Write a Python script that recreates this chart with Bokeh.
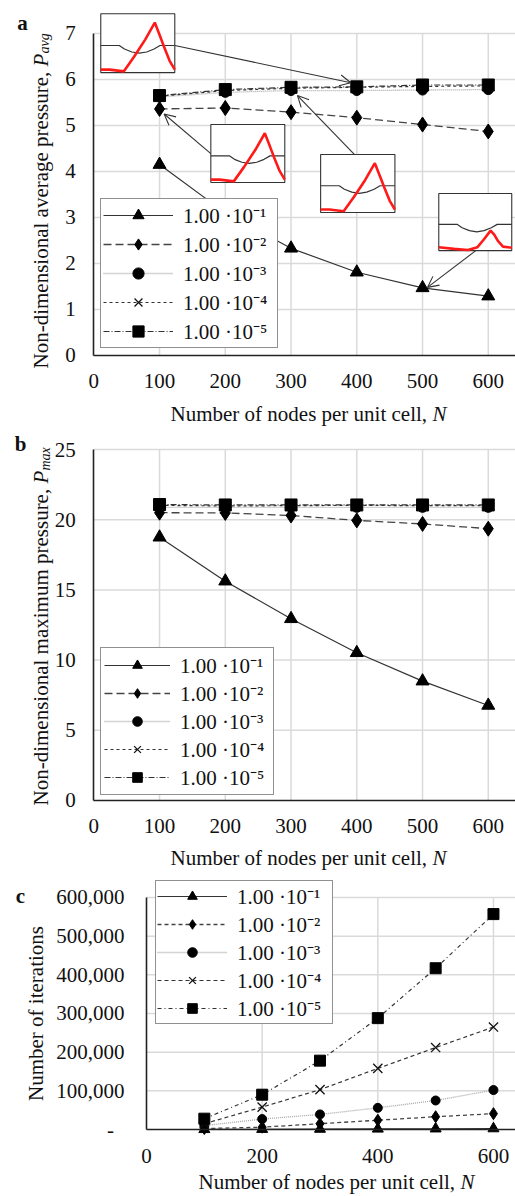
import math
from bokeh.plotting import figure
from bokeh.models import (Range1d, FixedTicker, Legend, LegendItem, Label, Arrow,
                          OpenHead, NumeralTickFormatter)
from bokeh.layouts import column
from bokeh.embed import file_html
from bokeh.resources import INLINE

# ---------------- data ----------------
nodes = [100, 200, 300, 400, 500, 600]
tolerance_labels = ["1.00 ·10⁻¹", "1.00 ·10⁻²", "1.00 ·10⁻³", "1.00 ·10⁻⁴", "1.00 ·10⁻⁵"]

p_avg_tol1 = [4.15, 3.10, 2.33, 1.81, 1.47, 1.29]
p_avg_tol2 = [5.36, 5.38, 5.29, 5.17, 5.02, 4.87]
p_avg_tol3 = [5.62, 5.72, 5.76, 5.76, 5.77, 5.78]
p_avg_tol4 = [5.64, 5.76, 5.81, 5.83, 5.85, 5.86]
p_avg_tol5 = [5.65, 5.78, 5.83, 5.84, 5.88, 5.88]

p_max_tol1 = [18.75, 15.62, 12.94, 10.52, 8.50, 6.77]
p_max_tol2 = [20.50, 20.48, 20.30, 19.95, 19.70, 19.36]
p_max_tol3 = [20.88, 20.88, 20.88, 20.88, 20.88, 20.88]
p_max_tol4 = [21.02, 20.98, 21.00, 21.02, 21.00, 21.00]
p_max_tol5 = [21.08, 21.05, 21.05, 21.05, 21.05, 21.05]

iter_tol1 = [300, 700, 1100, 1500, 1900, 2300]
iter_tol2 = [2500, 6000, 15000, 24000, 33000, 41000]
iter_tol3 = [10000, 27000, 39000, 56000, 75000, 102000]
iter_tol4 = [15000, 58000, 103000, 158000, 212000, 265000]
iter_tol5 = [28000, 90000, 178000, 288000, 417000, 557000]

x_ticks_ab = [0, 100, 200, 300, 400, 500, 600]
x_ticks_c = [0, 200, 400, 600]
y_ticks_a = [0, 1, 2, 3, 4, 5, 6, 7]
y_ticks_b = [0, 5, 10, 15, 20, 25]
y_ticks_c = [0, 100000, 200000, 300000, 400000, 500000, 600000]

# inset sketches (normalised shapes)
inset_black_x = [0, 0.25, 0.32, 0.42, 0.52, 0.62, 0.72, 0.80, 1.0]
inset_black_y = [0.46, 0.46, 0.40, 0.35, 0.33, 0.35, 0.40, 0.46, 0.46]
inset_red_x = [0, 0.12, 0.31, 0.45, 0.60, 0.73, 0.80, 0.86, 0.93, 1.0]
inset_red_y = [0.05, 0.05, 0.02, 0.27, 0.56, 0.85, 0.62, 0.42, 0.20, 0.05]
inset_red4_x = [0, 0.21, 0.40, 0.53, 0.62, 0.71, 0.76, 0.81, 0.88, 1.0]
inset_red4_y = [0.06, 0.03, 0.01, 0.06, 0.20, 0.35, 0.28, 0.17, 0.07, 0.05]

FONT = "Liberation Serif"
GRID = "#dadada"
W = 515

STYLES = [
    dict(marker="triangle", dash="solid", color="#333333", lw=1.2),
    dict(marker="diamond", dash="8 4", color="#444444", lw=1.3),
    dict(marker="circle", dash="1 1", color="#a8a8a8", lw=1.3),
    dict(marker="x", dash="3 3", color="#333333", lw=1.2),
    dict(marker="square", dash="6 2 1 2", color="#333333", lw=1.2),
]
SIZES_AB = [13, 15, 10, 14, 12]
SIZES_C = [11, 12, 9, 13, 11]
DASH_C = ["solid", "4 3", "1 1", "4 3", "4 3 1 3"]


def make_fig(height, xr, yr, xticks, yticks, x_end, y_top, ystand):
    p = figure(width=W, height=height, x_range=Range1d(*xr), y_range=Range1d(*yr),
               output_backend="svg", toolbar_location=None,
               min_border_left=0, min_border_right=0, min_border_top=0, min_border_bottom=0)
    p.outline_line_color = None
    p.grid.visible = False
    p.xaxis.ticker = FixedTicker(ticks=xticks)
    p.yaxis.ticker = FixedTicker(ticks=yticks)
    p.xaxis.fixed_location = 0
    p.yaxis.fixed_location = 0
    p.xaxis.bounds = (0, x_end)
    p.yaxis.bounds = (0, y_top)
    for ax in (p.xaxis[0], p.yaxis[0]):
        ax.major_label_text_font = FONT
        ax.major_label_text_font_size = "21px"
        ax.major_label_text_color = "#111111"
        ax.major_tick_line_color = None
        ax.minor_tick_line_color = None
        ax.major_tick_out = 0
        ax.major_tick_in = 0
        ax.axis_line_color = "#222222"
        ax.axis_line_width = 1.6
    p.xaxis.major_label_standoff = 19
    p.yaxis.major_label_standoff = ystand
    # grid lines, bounded to the plotting area
    gx = [t for t in xticks if t > 0]
    gy = [t for t in yticks if t > 0]
    p.segment(x0=gx, y0=[0] * len(gx), x1=gx, y1=[y_top] * len(gx),
              line_color=GRID, line_width=1.5)
    p.segment(x0=[0] * len(gy), y0=gy, x1=[x_end] * len(gy), y1=gy,
              line_color=GRID, line_width=1.5)
    return p


def txt(p, x, y, text, size="21px", style="normal", angle=0.0, align="left"):
    p.add_layout(Label(x=x, y=y, x_units="screen", y_units="screen", text=text,
                       text_font=FONT, text_font_size=size, text_font_style=style,
                       angle=angle, text_align=align, text_baseline="middle",
                       text_color="#111111"))


def draw_series(p, series, sizes, dashes):
    items = []
    for i, vals in enumerate(series):
        st = STYLES[i]
        ln = p.line(nodes, vals, line_color=st["color"], line_width=st["lw"],
                    line_dash=dashes[i])
        if st["marker"] == "x":
            sc = p.scatter(nodes, vals, marker="x", size=sizes[i], line_color="#111111",
                           line_width=1.3)
        else:
            sc = p.scatter(nodes, vals, marker=st["marker"], size=sizes[i],
                           fill_color="#000000", line_color="#000000")
        items.append(LegendItem(label=tolerance_labels[i], renderers=[ln, sc]))
    return items


def add_legend(p, items, loc, gw, gh, spacing, padding, lw, fs):
    lg = Legend(items=items, location=loc, orientation="vertical",
                label_text_font=FONT, label_text_font_size=fs, label_text_color="#111111",
                glyph_width=gw, glyph_height=gh, label_height=16, label_width=lw,
                label_standoff=10, spacing=spacing, padding=padding, margin=0,
                border_line_color="#222222", border_line_width=1.2,
                background_fill_color="white", background_fill_alpha=1.0)
    p.add_layout(lg)


# ---------------- panel a ----------------
HA = 428
pa = make_fig(HA, (-141.9, 641.4), (-1.587, 7.717), x_ticks_ab, y_ticks_a, 641.4, 7, 18)
items_a = draw_series(pa, [p_avg_tol1, p_avg_tol2, p_avg_tol3, p_avg_tol4, p_avg_tol5],
                      SIZES_AB, [s["dash"] for s in STYLES])

inset_boxes = [(10.6, 123.2, 6.15, 7.43), (178.0, 290.5, 3.76, 5.02),
               (345.0, 458.0, 3.11, 4.37), (524.7, 635.7, 2.28, 3.52)]
for k, (x0, x1, y0, y1) in enumerate(inset_boxes):
    pa.quad(left=x0, right=x1, bottom=y0, top=y1, fill_color="white",
            line_color="#333333", line_width=1.1)
    bx = [x0 + t * (x1 - x0) for t in inset_black_x]
    by = [y0 + t * (y1 - y0) for t in inset_black_y]
    pa.line(bx, by, line_color="#333333", line_width=1.2)
    rxs, rys = (inset_red4_x, inset_red4_y) if k == 3 else (inset_red_x, inset_red_y)
    rx = [x0 + t * (x1 - x0) for t in rxs]
    ry = [y0 + t * (y1 - y0) for t in rys]
    pa.line(rx, ry, line_color="#ff1a1a", line_width=2.6)

arrows = [(123.2, 6.74, 390.9, 5.93), (178.0, 4.39, 107.0, 5.25),
          (395.9, 4.38, 309.8, 5.65), (581.0, 2.28, 507.5, 1.48)]
for (xs, ys, xe, ye) in arrows:
    pa.add_layout(Arrow(x_start=xs, y_start=ys, x_end=xe, y_end=ye,
                        line_color="#333333", line_width=1.1,
                        end=OpenHead(size=11, line_color="#333333", line_width=1.1)))

add_legend(pa, items_a, (100, 80), 70, 28, 1, 2, 92, "21px")
txt(pa, 170, 15, "Number of nodes per unit cell,")
txt(pa, 432, 15, "N", style="italic")
txt(pa, 40, 60, "Non-dimensional average pressure,", angle=math.pi / 2)
txt(pa, 40, 362, "P", style="italic", angle=math.pi / 2)
txt(pa, 44, 375, "avg", size="14px", style="italic", angle=math.pi / 2)
txt(pa, 22, 406, "a", style="bold", align="center")

# ---------------- panel b ----------------
HB = 442
pb = make_fig(HB, (-141.9, 641.4), (-4.986, 26.496), x_ticks_ab, y_ticks_b, 641.4, 25, 18)
items_b = draw_series(pb, [p_max_tol1, p_max_tol2, p_max_tol3, p_max_tol4, p_max_tol5],
                      SIZES_AB, [s["dash"] for s in STYLES])
add_legend(pb, items_b, (100, 75), 66, 24, 0, 3, 90, "21px")
txt(pb, 170, 13, "Number of nodes per unit cell,")
txt(pb, 432, 13, "N", style="italic")
txt(pb, 40, 65, "Non-dimensional maximum pressure,", angle=math.pi / 2)
txt(pb, 40, 387, "P", style="italic", angle=math.pi / 2)
txt(pb, 45, 400, "max", size="14px", style="italic", angle=math.pi / 2)
txt(pb, 20, 427, "b", style="bold", align="center")

# ---------------- panel c ----------------
HC = 326
pc = make_fig(HC, (-252.5, 638.1), (-173261, 669770), x_ticks_c, y_ticks_c, 638.1, 600000, 22)
pc.yaxis.formatter = NumeralTickFormatter(format="0,0")
pc.yaxis.major_label_overrides = {0: "-\u00a0\u00a0"}
items_c = draw_series(pc, [iter_tol1, iter_tol2, iter_tol3, iter_tol4, iter_tol5],
                      SIZES_C, DASH_C)
add_legend(pc, items_c, (155, 172), 70, 24, 0, 1, 94, "21px")
txt(pc, 198, 15, "Number of nodes per unit cell,")
txt(pc, 460, 15, "N", style="italic")
txt(pc, 35, 183, "Number of iterations", angle=math.pi / 2, align="center")
txt(pc, 20, 301, "c", style="bold", align="center")

layout = column(pa, pb, pc, spacing=0)
open("out.html", "w").write(file_html(layout, INLINE))
